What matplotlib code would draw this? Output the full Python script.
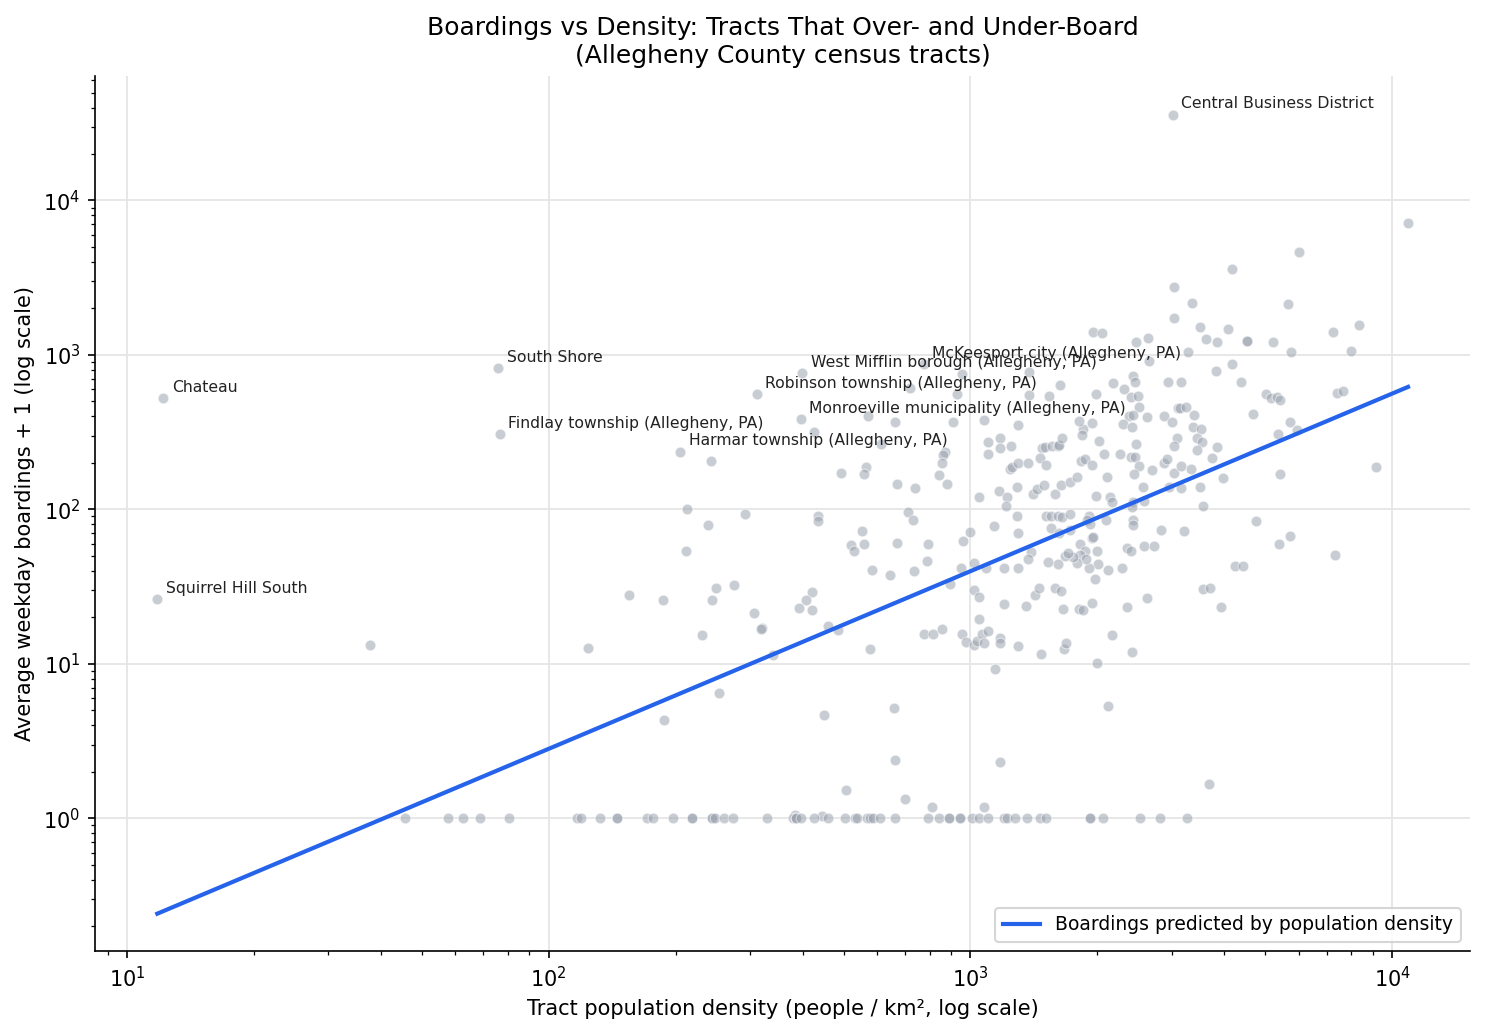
import matplotlib
matplotlib.use("Agg")
import matplotlib.pyplot as plt
import numpy as np

# labelled tracts: density (people / km2), boardings + 1
label_names = [
    "Central Business District", "Chateau", "South Shore",
    "Findlay township (Allegheny, PA)", "Squirrel Hill South",
    "Harmar township (Allegheny, PA)", "Robinson township (Allegheny, PA)",
    "West Mifflin borough (Allegheny, PA)", "Monroeville municipality (Allegheny, PA)",
    "McKeesport city (Allegheny, PA)",
]
label_density = [3020, 12.2, 75.9, 76.6, 11.8, 205, 312, 399, 396, 776]
label_boardings = [36000, 523, 818, 306, 26.2, 237, 555, 759, 383, 868]

# all other tracts with boardings > 0
other_density = [
    10900, 6010, 4170, 3040, 3350, 5660, 3040, 3500, 4080, 8340, 7240, 1955, 2050,
    2636, 2470, 3620, 3850, 4530, 4530, 5220, 5760, 8000, 3280, 2654, 4170, 3820,
    2430, 1377, 955,
    426, 243, 493, 565, 560, 571, 213, 292, 239, 436, 436, 553, 521, 530, 560, 212,
    155, 187, 249, 244, 275, 421, 407, 392, 421, 307, 321, 459, 124, 231, 318, 485,
    341, 578, 254, 188, 450, 507, 384, 445, 700, 811, 1077, 3680, 37.7,
    776, 815, 857, 955, 977, 1020, 1037, 1066, 1077, 1102, 1048, 1175, 1175, 1297,
    1470, 1143, 1667, 1686, 1995, 2167, 2417, 2120, 659, 662, 1175, 1202, 1356,
    1660, 1810, 1850, 1941, 2350,
    719, 929, 1377, 1535, 1630, 1985, 2180, 2310, 2400, 2500, 2455, 2944, 2512,
    2378, 2430, 2300, 2417, 2625, 2878, 3006, 3105, 3090, 3040, 2470, 1077, 1297,
    910, 662, 614, 871, 861, 857, 843, 881, 670, 739, 1102, 1102, 1175, 1175, 1248,
    1241, 1254, 1297, 1370, 1479, 1503, 1462, 1512, 1562, 1614, 1622, 1648, 1850,
    1840, 1810, 1941, 2018, 2075, 1830, 1870, 1941, 2265, 2400, 2455, 2512, 2700,
    2878, 2930, 3040, 2960, 2440, 2570, 2585, 2110, 1985, 2145, 2167, 2430, 2417,
    2430, 2430, 2830, 2585, 2720, 2350, 2400, 2285, 2625, 2120, 1975, 2010, 1910,
    1941, 1995, 1820, 1870, 1820, 1880, 1790, 1750, 1910, 1890, 2100, 1920, 1676,
    1700, 1614, 1527, 1393, 1370, 1297, 1202, 1090, 1020, 951, 895, 1020, 1048,
    1422, 1455, 1585, 1640, 792, 670, 711, 731, 788, 735, 644, 585, 998, 960, 1138,
    1048, 1170, 1223, 1213, 1290, 1290, 1297, 1407, 1435, 1495, 1585, 1640, 1722,
    1790, 1512, 1552, 1614, 1648, 1552, 1718, 1718, 1622, 1950,
    4380, 3155, 5020, 5160, 5330, 5420, 7400, 7650, 4680, 5730, 5360, 5950, 3140,
    3240, 3390, 3370, 3520, 3440, 3540, 3440, 3850, 3740, 3155, 3330, 3162, 3500,
    3970, 3560, 5420, 9160, 4760, 3210, 5730, 5390, 7330, 4240, 4420, 3560, 3700,
    3930,
]
other_boardings = [
    7200, 4610, 3575, 2735, 2155, 2125, 1722, 1528, 1483, 1553, 1400, 1400, 1380,
    1279, 1205, 1260, 1205, 1240, 1225, 1205, 1038, 1054, 1038, 908, 868, 782,
    736, 771, 748,
    315, 207, 171, 187, 169, 400, 101, 93, 79, 91, 84, 73, 59, 53.5, 60, 54,
    28, 26, 31, 25.8, 32.2, 29, 26, 22.9, 22.2, 21.5, 17.0, 17.5, 12.6, 15.3, 16.7, 16.5,
    11.4, 12.4, 6.5, 4.3, 4.7, 1.52, 1.05, 1.03, 1.33, 1.18, 1.18, 1.68, 13.2,
    15.5, 15.5, 16.7, 15.5, 13.8, 13.2, 14.0, 15.5, 13.6, 16.2, 19.4, 14.6, 13.6, 13.0,
    11.5, 9.2, 12.4, 13.6, 10.1, 15.3, 12.0, 5.3, 5.15, 2.37, 2.30, 24.3, 23.6,
    22.5, 22.5, 22.2, 24.6, 23.2,
    607, 555, 547, 539, 635, 555, 654, 598, 531, 539, 664, 664, 457,
    400, 406, 355, 340, 394, 400, 366, 451, 292, 256, 264, 377, 350,
    366, 366, 267, 237, 224, 199, 166, 145, 147, 137, 272, 230, 292, 248, 256,
    184, 189, 201, 199, 248, 252, 214, 193, 256, 256, 261, 288, 334,
    305, 372, 361, 276, 230, 205, 211, 193, 230, 217, 217, 190, 179,
    201, 211, 173, 139, 169, 139, 113, 161, 123, 121, 111, 111, 103,
    86, 79, 74, 57.6, 57.6, 56, 53.5, 41.5, 26.5, 40.3, 35.2, 44, 42,
    65, 54, 60, 54, 51, 48, 44.7, 49, 91, 86, 86, 81, 49.6,
    52, 44, 45.4, 52.7, 48, 42, 42, 42, 44.7, 41.5, 32.7, 29.9, 26.9,
    28, 30.8, 30.8, 29.5, 60, 61, 95.5, 86, 46, 39.7, 37.4, 40.3, 71, 62, 77.6,
    120, 131, 120, 105, 139, 91, 70, 125, 135, 143, 125, 143, 150,
    161, 90, 90, 90, 89, 76, 93, 74, 70, 66,
    664, 673, 555, 523, 531, 508, 564, 580, 412, 366, 310, 325, 451,
    457, 406, 340, 334, 288, 272, 241, 252, 214, 190, 182, 137, 139,
    159, 105, 169, 187, 84, 73, 67, 60, 50.4, 42.8, 42.8, 30.4, 30.8,
    23.2,
]

# tracts with zero boardings (plotted at boardings + 1 = 1)
zero_density = [
    45.6, 57.7, 62.6, 68.7, 80.5, 116.7, 119.3, 132.3, 145.2, 145.2, 171.1, 176.8,
    197.2, 218.8, 218.8, 243.9, 243.9, 248.0, 260.5, 273.5, 329.4, 379.6, 385.9,
    385.9, 396.6, 425.8, 459.5, 504.3, 532.6, 538.4, 568.6, 578.1, 587.6, 610.5,
    662.5, 793.5, 842.6, 889.9, 889.9, 944.8, 944.8, 1009, 1048, 1101, 1201, 1221,
    1276, 1362, 1462, 1511, 1921, 1921, 2063, 2525, 2816, 3263,
]

# fitted power law: log10(pred) = fit_intercept + fit_slope * log10(density)
fit_slope = 1.15
fit_intercept = -1.85

density = np.array(label_density + other_density + zero_density, dtype=float)
boardings_p1 = np.array(label_boardings + other_boardings + [1.0] * len(zero_density))

fig, ax = plt.subplots(figsize=(9.9, 6.9), dpi=150)
fig.subplots_adjust(left=0.064, right=0.99, bottom=0.081, top=0.927)

ax.scatter(density, boardings_p1, s=26, color="#9ca3af", alpha=0.55,
           edgecolors="white", linewidths=0.5, zorder=2)

xs = np.sort(density)
ax.plot(xs, 10 ** (fit_intercept + fit_slope * np.log10(xs)), color="#2563eb",
        lw=2, label="Boardings predicted by population density", zorder=3)

for name, x, y in zip(label_names, label_density, label_boardings):
    ax.annotate(name, (x, y), xytext=(4, 3), textcoords="offset points",
                fontsize=7.5, color="#222222")

ax.set_xscale("log")
ax.set_yscale("log")
ax.set_xlim(8.4, 15300)
ax.set_ylim(0.138, 64400)
ax.grid(True, which="major", color="#e6e6e6", linewidth=0.9)
ax.set_axisbelow(True)
ax.spines["top"].set_visible(False)
ax.spines["right"].set_visible(False)

ax.set_xlabel("Tract population density (people / km², log scale)")
ax.set_ylabel("Average weekday boardings + 1 (log scale)")
ax.set_title("Boardings vs Density: Tracts That Over- and Under-Board\n"
             "(Allegheny County census tracts)", fontsize=12)
ax.legend(loc="lower right", fontsize=9)

fig.savefig("out.png", dpi=150)
